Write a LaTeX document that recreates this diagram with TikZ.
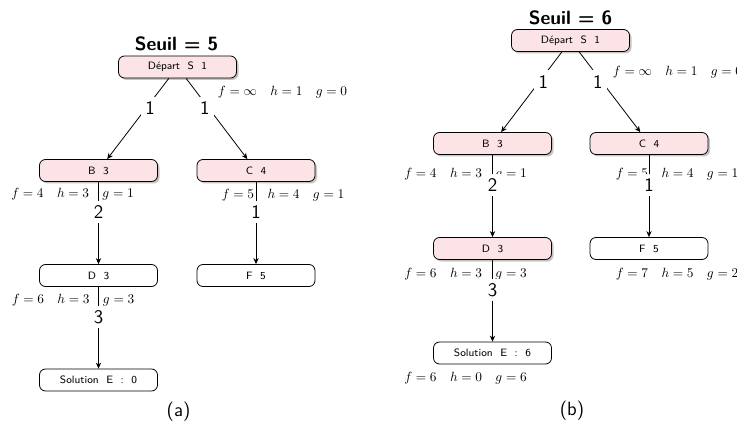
\documentclass[tikz,border=0pt]{standalone}
\usepackage{amsmath}
\usepackage{tikz}
\usetikzlibrary{arrows.meta,shadows}
\definecolor{visitepink}{RGB}{252,228,230}

\begin{document}
\begin{tikzpicture}[x=0.75pt, y=-0.75pt,
    etat/.style={draw, semithick, rounded corners=4.5pt, minimum width=88.5pt, minimum height=16.5pt, inner sep=0pt, fill=white, font=\fontsize{8}{10}\selectfont\sffamily},
    etatvu/.style={etat, fill=visitepink, drop shadow={shadow xshift=1.5pt, shadow yshift=-1.5pt, fill=black!45}},
    cout/.style={inner sep=0pt, font=\fontsize{10}{12}\selectfont},
    poids/.style={pos=0.37, fill=white, inner sep=3.5pt, font=\Large\sffamily},
    titre/.style={font=\Large\bfseries\sffamily},
    legende/.style={font=\Large\sffamily},
    arc/.style={-{Stealth[length=4.5pt, width=4pt]}, semithick}]
    \useasboundingbox (0,0) rectangle (737,434);

    % Arbre (a)
    \node[titre] (titreA) at (176.5,44) {Seuil = 5};
    \node[etatvu] (sA) at (177.5,67) {Départ~~S~~1};
    \node[etatvu] (bA) at (98.5,170.5) {B~~3};
    \node[etatvu] (cA) at (256,170.5) {C~~4};
    \node[etat] (dA) at (98.5,275.5) {D~~3};
    \node[etat] (fA) at (256,275.5) {F~~5};
    \node[etat] (eA) at (98.5,380) {Solution~~E~~:~~0};
    \node[legende] (legA) at (178.5,412) {(a)};

    % Arbre (b)
    \node[titre] (titreB) at (570.5,18) {Seuil = 6};
    \node[etatvu] (sB) at (570.5,40.5) {Départ~~S~~1};
    \node[etatvu] (bB) at (492.5,143.5) {B~~3};
    \node[etatvu] (cB) at (649,143.5) {C~~4};
    \node[etatvu] (dB) at (492.5,248.5) {D~~3};
    \node[etat] (fB) at (649,248.5) {F~~5};
    \node[etat] (eB) at (492.5,353) {Solution~~E~~:~~6};
    \node[legende] (legB) at (572,411) {(b)};

    % Couts f, h, g
    \foreach \nom/\x/\y/\f/\h/\g in {kSA/282.5/92/\infty/1/0, kBA/72.5/194.5/4/3/1, kCA/283/195/5/4/1, kDA/73/300/6/3/3,
        kSB/677.5/72/\infty/1/0, kBB/465.5/174/4/3/1, kCB/677/174/5/4/1, kDB/465.5/274/6/3/3, kFB/677/274/7/5/2, kEB/465.5/378/6/0/6} {
        \node[cout] (\nom) at (\x,\y) {$f=\f \quad h=\h \quad g=\g$};
    }

    % Arcs
    \foreach \de/\vers/\w/\dx in {sA/bA/1/3pt, sA/cA/1/-3pt, bA/dA/2/0pt, cA/fA/1/0pt, dA/eA/3/0pt,
        sB/bB/1/3pt, sB/cB/1/-3pt, bB/dB/2/0pt, cB/fB/1/0pt, dB/eB/3/0pt} {
        \draw[arc] (\de) -- node[poids, xshift=\dx] {\w} (\vers);
    }

\end{tikzpicture}
\end{document}
